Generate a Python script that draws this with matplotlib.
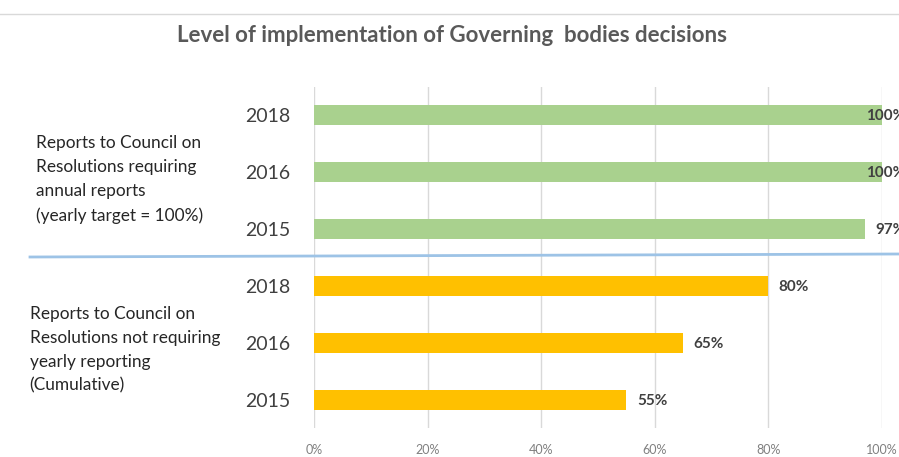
import matplotlib.pyplot as plt
from matplotlib.lines import Line2D

# donnees (de bas en haut)
years = ["2015", "2016", "2018", "2015", "2016", "2018"]
values = [55, 65, 80, 97, 100, 100]
colors = ["#FFC000"] * 3 + ["#A9D18E"] * 3

title = "Level of implementation of Governing  bodies decisions"
group_top = "Reports to Council on\nResolutions requiring\nannual reports\n(yearly target = 100%)"
group_bottom = "Reports to Council on\nResolutions not requiring\nyearly reporting\n(Cumulative)"
xticks = [0, 20, 40, 60, 80, 100]

plt.rcParams['font.family'] = ['Lato', 'DejaVu Sans']

fig = plt.figure(figsize=(8.99, 4.57), dpi=100)
ax = fig.add_axes([0.3493, 0.0624, 0.9811 - 0.3493, 0.8107 - 0.0624])

pos = list(range(len(values)))
ax.barh(pos, values, height=0.35, color=colors, zorder=2)

ax.set_xlim(0, 100)
ax.set_ylim(-0.5, 5.5)
ax.set_xticks(xticks)
ax.set_xticklabels([f"{t}%" for t in xticks], color="#808080", fontsize=9)
ax.set_yticks(pos)
ax.set_yticklabels(years, fontsize=14, color="#404040")
ax.tick_params(length=0, pad=17, axis="y")
ax.tick_params(length=0, pad=11, axis="x")
ax.grid(axis="x", color="#d9d9d9", lw=1, zorder=0)
for s in ax.spines.values():
    s.set_visible(False)

# etiquettes de valeurs
for p, v in zip(pos, values):
    off = -11.5 if v >= 100 else 7.5
    ax.annotate(f"{v}%", (v, p), xytext=(off, -1), textcoords="offset points",
                ha="left", va="center", fontsize=11, fontweight="bold",
                color="#404040", annotation_clip=False)

fig.text(0.503, 0.922, title, ha="center", va="center", fontsize=16,
         fontweight="bold", color="#595959")
fig.text(0.040, 0.607, group_top, ha="left", va="center", fontsize=12.4,
         color="#262626", linespacing=1.6)
fig.text(0.033, 0.234, group_bottom, ha="left", va="center", fontsize=12.4,
         color="#262626", linespacing=1.6)

# ligne de separation et bord du haut
fig.add_artist(Line2D([30 / 899, 1.0], [1 - 257 / 457, 1 - 254 / 457],
                      color="#9DC3E6", lw=2, transform=fig.transFigure))
fig.add_artist(Line2D([0, 1.0], [1 - 14 / 457, 1 - 14 / 457],
                      color="#d9d9d9", lw=1, transform=fig.transFigure))

fig.savefig("out.png", dpi=100)
